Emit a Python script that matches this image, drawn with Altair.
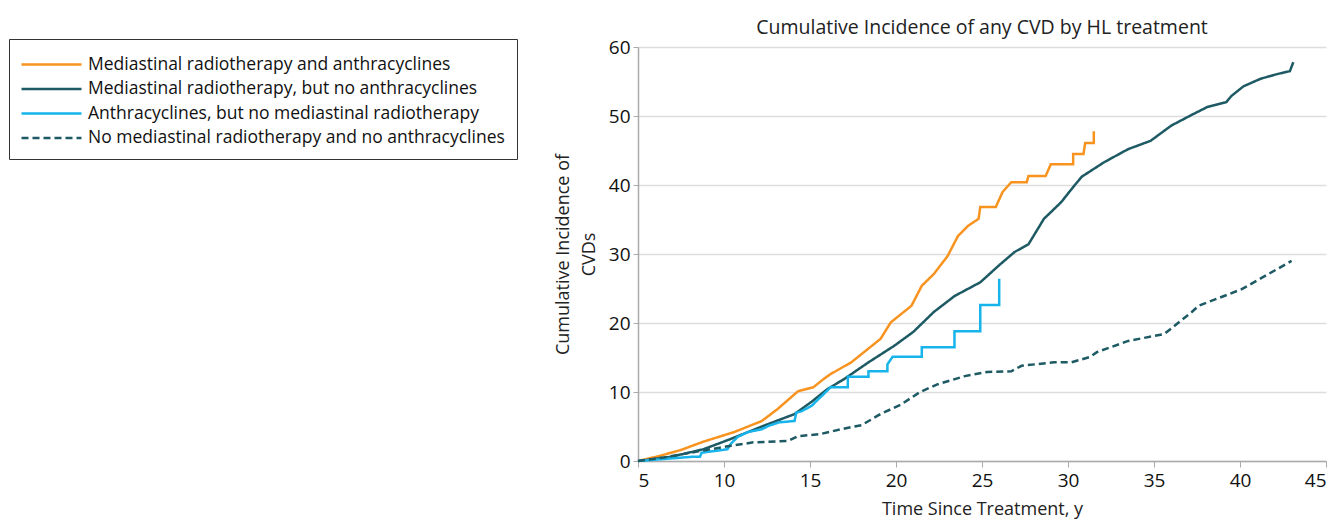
import altair as alt
import pandas as pd

series_names = [
    "Mediastinal radiotherapy and anthracyclines",
    "Mediastinal radiotherapy, but no anthracyclines",
    "Anthracyclines, but no mediastinal radiotherapy",
    "No mediastinal radiotherapy and no anthracyclines",
]
series_colors = ["#f7931e", "#1d5a64", "#16b4ea", "#1d5a64"]
series_dash = [[1, 0], [1, 0], [1, 0], [7, 4]]

rt_anthra_x = [5, 6.2, 7.5, 8.8, 10.6, 12.2, 13.1, 14.3, 15.2, 15.8, 16.2, 17.4, 18.5, 19.1, 19.7, 20.3,
               20.9, 21.5, 22.2, 23.0, 23.6, 24.2, 24.8, 24.9, 25.8, 26.2, 26.7, 27.6, 27.7, 28.7, 29.0,
               30.3, 30.3, 30.9, 31.0, 31.5, 31.5]
rt_anthra_y = [0, 0.7, 1.6, 2.8, 4.2, 5.8, 7.5, 10.1, 10.7, 11.9, 12.6, 14.3, 16.5, 17.7, 20.1, 21.3,
               22.5, 25.4, 27.1, 29.7, 32.6, 34.1, 35.1, 36.8, 36.8, 39.0, 40.4, 40.4, 41.3, 41.3, 43.0,
               43.0, 44.5, 44.5, 46.1, 46.1, 47.8]

rt_only_x = [5, 6.9, 8.8, 10.4, 12.3, 14.1, 15.1, 16.0, 17.0, 18.4, 19.9, 21.0, 22.2, 23.4, 24.9, 25.3,
             26.1, 26.9, 27.7, 28.6, 29.6, 30.3, 30.8, 32.1, 33.5, 34.8, 36.0, 37.3, 38.1, 39.2, 39.5,
             40.2, 41.2, 42.2, 42.9, 43.1]
rt_only_y = [0, 0.6, 1.7, 3.2, 5.1, 6.8, 8.6, 10.4, 11.9, 14.3, 16.7, 18.7, 21.6, 23.9, 25.9, 26.8,
             28.6, 30.3, 31.4, 35.1, 37.5, 39.7, 41.2, 43.3, 45.2, 46.4, 48.6, 50.3, 51.3, 52.0, 52.9,
             54.3, 55.4, 56.1, 56.5, 57.8]

anthra_only_x = [5, 8.1, 8.6, 8.7, 10.2, 10.4, 10.8, 11.4, 12.2, 12.6, 13.2, 14.1, 14.2, 14.5, 15.1,
                 15.5, 15.8, 16.2, 17.2, 17.2, 18.4, 18.4, 19.5, 19.5, 19.8, 21.5, 21.5, 23.4, 23.4,
                 24.9, 24.9, 26.0, 26.0]
anthra_only_y = [0, 0.6, 0.6, 1.2, 1.7, 2.5, 3.5, 4.2, 4.6, 5.1, 5.6, 5.8, 7.0, 7.2, 8.0,
                 9.0, 9.7, 10.7, 10.7, 12.2, 12.2, 13.0, 13.0, 14.0, 15.1, 15.1, 16.5, 16.5, 18.8,
                 18.8, 22.6, 22.6, 26.4]

neither_x = [5, 6.5, 8.5, 10.4, 11.7, 13.7, 14.3, 15.6, 16.8, 18.0, 19.1, 20.3, 21.4, 22.4, 24.0, 25.3,
             26.7, 27.3, 29.2, 30.2, 31.3, 31.7, 33.5, 35.6, 36.2, 37.2, 37.6, 40.1, 43.0]
neither_y = [0, 0.5, 1.4, 2.2, 2.7, 2.9, 3.6, 3.9, 4.6, 5.2, 6.8, 8.2, 10.0, 11.1, 12.3, 12.9,
             13.0, 13.8, 14.3, 14.3, 15.1, 15.8, 17.4, 18.4, 19.6, 21.6, 22.5, 24.9, 29.0]

x_ticks = [5, 10, 15, 20, 25, 30, 35, 40, 45]
y_ticks = [0, 10, 20, 30, 40, 50, 60]

rows = []
for name, xs, ys in zip(series_names,
                        [rt_anthra_x, rt_only_x, anthra_only_x, neither_x],
                        [rt_anthra_y, rt_only_y, anthra_only_y, neither_y]):
    for i, (xv, yv) in enumerate(zip(xs, ys)):
        rows.append({"series": name, "order": i, "t": xv, "ci": yv})
df = pd.DataFrame(rows)

leg = alt.Legend(title=None, orient="none", legendX=-629, legendY=-8)

chart = alt.Chart(df).mark_line(strokeWidth=2.5).encode(
    x=alt.X("t:Q", scale=alt.Scale(domain=[5, 45], nice=False),
            axis=alt.Axis(title="Time Since Treatment, y", values=x_ticks, grid=False,
                          tickSize=6, labelPadding=4, titlePadding=10)),
    y=alt.Y("ci:Q", scale=alt.Scale(domain=[0, 60], nice=False),
            axis=alt.Axis(title=["Cumulative Incidence of", "CVDs"], values=y_ticks,
                          tickSize=5, labelPadding=3, titlePadding=10, grid=True)),
    color=alt.Color("series:N", scale=alt.Scale(domain=series_names, range=series_colors),
                    legend=leg),
    strokeDash=alt.StrokeDash("series:N", scale=alt.Scale(domain=series_names, range=series_dash),
                              legend=leg),
    detail="series:N",
    order="order:Q",
).properties(
    width=688, height=414,
    title=alt.TitleParams("Cumulative Incidence of any CVD by HL treatment", fontSize=19.5,
                          font="Open Sans", fontWeight="normal", color="#222", offset=0),
    padding={"left": 0, "top": 9, "right": 5, "bottom": 5},
).configure_view(stroke=None).configure_axis(
    labelFont="Open Sans", titleFont="Open Sans", labelFontSize=19, titleFontSize=18,
    titleFontWeight="normal", labelColor="#111", titleColor="#222",
    domainColor="#aaa", tickColor="#aaa", domainWidth=1.5, gridColor="#dddddd", gridWidth=1.5,
).configure_axisY(titleLineHeight=26).configure_legend(
    labelFont="Open Sans", labelFontSize=17.5, labelColor="#111", labelLimit=600,
    symbolType="M-2.5,0H2.5", symbolSize=576, symbolStrokeWidth=2.5,
    strokeColor="#333", fillColor="white", padding=12, rowPadding=2.5, cornerRadius=0,
    labelOffset=23, symbolOffset=17,
)

chart.save("out.html", embed_options={"renderer": "svg", "actions": False})
